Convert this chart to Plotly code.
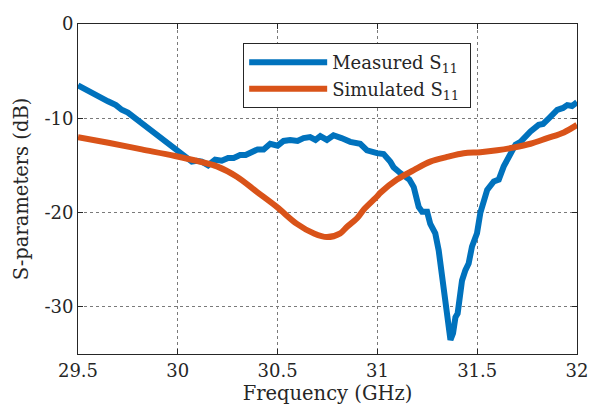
import plotly.graph_objects as go

# Measured S11 (GHz, dB)
meas_f = [29.500, 29.540, 29.585, 29.620, 29.650, 29.690, 29.719, 29.750, 29.786, 29.810,
          29.836, 29.860, 29.886, 29.910, 29.936, 29.960, 29.986, 30.010, 30.037,
          30.070, 30.095, 30.120, 30.152, 30.170, 30.187, 30.220, 30.252, 30.280, 30.312, 30.340,
          30.363, 30.400, 30.430, 30.463, 30.500, 30.530, 30.563, 30.600, 30.630, 30.663,
          30.690, 30.714, 30.747, 30.780, 30.820, 30.864, 30.914, 30.948, 30.998, 31.031, 31.065, 31.081,
          31.114, 31.131, 31.160, 31.182, 31.207, 31.224, 31.249, 31.265, 31.290, 31.307, 31.324,
          31.340, 31.352, 31.362, 31.366, 31.379, 31.391, 31.402, 31.412, 31.424, 31.441,
          31.457, 31.474, 31.499, 31.516, 31.550, 31.583, 31.608, 31.633, 31.666, 31.692,
          31.717, 31.740, 31.767, 31.808, 31.830, 31.859, 31.901, 31.930, 31.951, 31.975, 32.000]
meas_db = [-6.5, -7.0, -7.4, -7.9, -8.2, -8.6, -9.1, -9.4, -10.0, -10.3,
           -10.9, -11.2, -11.6, -12.1, -12.5, -12.8, -13.4, -13.7, -14.1,
           -14.6, -14.5, -14.6, -15.0, -14.6, -14.4, -14.5, -14.2, -14.2, -13.9, -13.9,
           -13.6, -13.3, -13.3, -12.7, -12.9, -12.4, -12.3, -12.4, -12.1, -12.0,
           -12.3, -11.9, -12.3, -11.8, -12.1, -12.5, -12.7, -13.4, -13.7, -13.8, -14.6, -15.2,
           -15.8, -16.0, -16.5, -17.3, -19.4, -19.9, -19.9, -21.2, -22.2, -24.0, -26.5,
           -28.6, -30.4, -32.1, -33.5, -32.8, -31.1, -30.7, -29.0, -27.2, -26.1,
           -25.4, -23.6, -22.2, -20.0, -17.6, -16.7, -16.5, -15.1, -13.7, -12.8,
           -12.5, -11.9, -11.4, -10.7, -10.6, -10.0, -9.1, -8.9, -8.6, -8.7, -8.3]

# Simulated S11 (GHz, dB)
sim_f = [29.500, 29.652, 29.819, 29.986, 30.110, 30.196, 30.296, 30.396, 30.496, 30.597,
         30.680, 30.747, 30.814, 30.848, 30.898, 30.931, 30.998, 31.015, 31.098, 31.182,
         31.265, 31.349, 31.432, 31.516, 31.600, 31.683, 31.767, 31.851, 31.934, 32.000]
sim_db = [-12.0, -12.6, -13.3, -14.0, -14.6, -15.1, -16.2, -17.8, -19.4, -21.2,
          -22.2, -22.6, -22.2, -21.5, -20.6, -19.7, -18.3, -17.9, -16.5, -15.5,
          -14.6, -14.1, -13.7, -13.6, -13.4, -13.1, -12.7, -12.1, -11.5, -10.7]

x_ticks = [29.5, 30, 30.5, 31, 31.5, 32]
x_ticktext = ["29.5", "30", "30.5", "31", "31.5", "32"]
y_ticks = [0, -10, -20, -30]
y_ticktext = ["0", "-10", "-20", "-30"]

FONT = "DejaVu Serif"
INK = "#262626"

fig = go.Figure()
fig.add_trace(go.Scatter(x=meas_f, y=meas_db, mode="lines", name="Measured S<sub>11</sub> ",
                         line=dict(color="#0072BD", width=6)))
fig.add_trace(go.Scatter(x=sim_f, y=sim_db, mode="lines", name="Simulated S<sub>11</sub> ",
                         line=dict(color="#D95319", width=6, shape="spline", smoothing=1.0)))

axis_common = dict(showline=True, linecolor=INK, linewidth=1, mirror="ticks",
                   ticks="inside", ticklen=5, tickcolor=INK, automargin=False,
                   showgrid=True, gridcolor="#7a7a7a", griddash="dot", gridwidth=1,
                   zeroline=False, tickfont=dict(family=FONT, size=18, color=INK))

fig.update_xaxes(range=[29.5, 32], tickvals=x_ticks, ticktext=x_ticktext,
                 title=dict(text="Frequency (GHz)", font=dict(family=FONT, size=19.5, color=INK),
                            standoff=6), **axis_common)
fig.update_yaxes(range=[-35, 0], tickvals=y_ticks, ticktext=y_ticktext,
                 title=dict(text="S-parameters (dB)", font=dict(family=FONT, size=19.5, color=INK),
                            standoff=10), **axis_common)

fig.update_layout(
    width=590, height=408,
    margin=dict(l=78, r=13, t=24, b=54),
    plot_bgcolor="white", paper_bgcolor="white",
    font=dict(family=FONT, color=INK),
    showlegend=True,
    legend=dict(x=0.331, y=0.942, xanchor="left", yanchor="top",
                bgcolor="white", bordercolor=INK, borderwidth=1,
                font=dict(family=FONT, size=18, color=INK),
                itemwidth=78, tracegroupgap=0),
)

fig.write_html("out.html")
